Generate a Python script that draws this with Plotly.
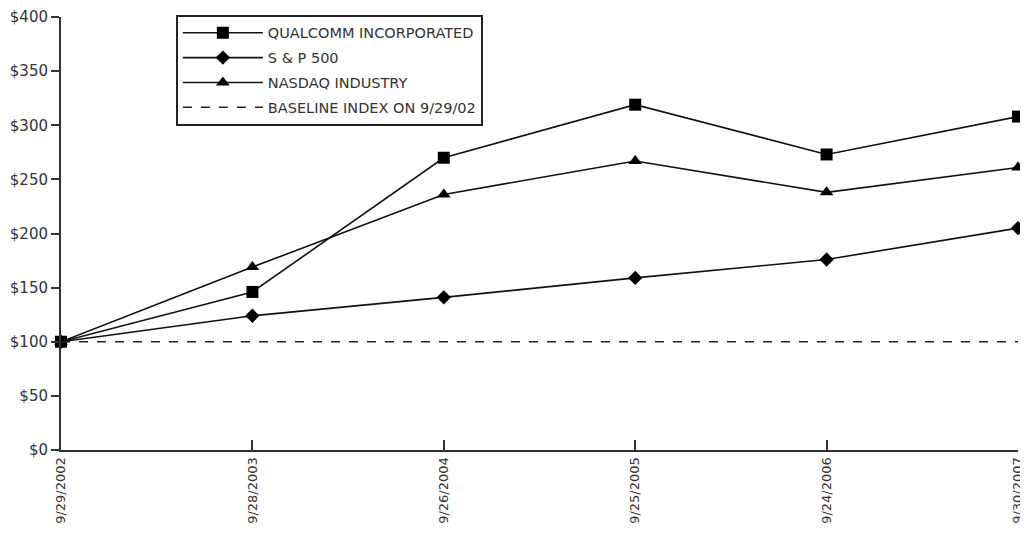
import plotly.graph_objects as go

dates = ["9/29/2002", "9/28/2003", "9/26/2004", "9/25/2005", "9/24/2006", "9/30/2007"]
qualcomm = [100, 146, 270, 319, 273, 308]
sp500 = [100, 124, 141, 159, 176, 205]
nasdaq = [100, 169, 236, 267, 238, 261]
baseline = [100, 100, 100, 100, 100, 100]
y_ticks = [0, 50, 100, 150, 200, 250, 300, 350, 400]
y_labels = ["$0", "$50", "$100", "$150", "$200", "$250", "$300", "$350", "$400"]

fig = go.Figure()
fig.add_trace(go.Scatter(x=dates, y=qualcomm, mode="lines+markers", name="QUALCOMM INCORPORATED",
                         legendgroup="q",
                         line=dict(color="#111", width=1.6),
                         marker=dict(symbol="square", size=12, color="#000"), cliponaxis=False))
fig.add_trace(go.Scatter(x=dates, y=sp500, mode="lines+markers", name="S & P 500",
                         legendgroup="s",
                         line=dict(color="#111", width=1.6),
                         marker=dict(symbol="diamond", size=11, color="#000"), cliponaxis=False))
fig.add_trace(go.Scatter(x=dates, y=nasdaq, mode="lines+markers", name="NASDAQ INDUSTRY",
                         legendgroup="n",
                         line=dict(color="#111", width=1.6),
                         marker=dict(symbol="triangle-up", size=12, color="#000"), cliponaxis=False))
fig.add_trace(go.Scatter(x=dates, y=baseline, mode="lines", name="BASELINE INDEX ON 9/29/02",
                         legendgroup="b",
                         line=dict(color="#222", width=1.5, dash="dash"), cliponaxis=False))

fig.update_layout(
    width=1028, height=535,
    margin=dict(l=53, r=18, t=9, b=93, autoexpand=False),
    paper_bgcolor="white", plot_bgcolor="white",
    font=dict(family="DejaVu Sans, Liberation Sans, sans-serif", size=13, color="#333"),
    showlegend=True,
    legend=dict(x=0.12, y=1.005, xanchor="left", yanchor="top",
                traceorder="grouped", tracegroupgap=3, itemwidth=80,
                bordercolor="#222", borderwidth=2, bgcolor="white",
                font=dict(size=14.5, color="#333")),
    xaxis=dict(type="category", range=[0, 5], showline=True, linecolor="#333", linewidth=2,
               ticks="inside", ticklen=10, tickcolor="#333", tickwidth=1.5,
               tickangle=-90, showgrid=False, zeroline=False, automargin=False,
               tickfont=dict(size=13, color="#333")),
    yaxis=dict(range=[0, 400], tickvals=y_ticks, ticktext=y_labels, showline=True,
               linecolor="#333", linewidth=2, ticks="outside", ticklen=8, tickcolor="#333",
               tickwidth=1.5, showgrid=False, zeroline=False, automargin=False,
               tickfont=dict(size=15, color="#333")),
)

fig.write_html("out.html")
